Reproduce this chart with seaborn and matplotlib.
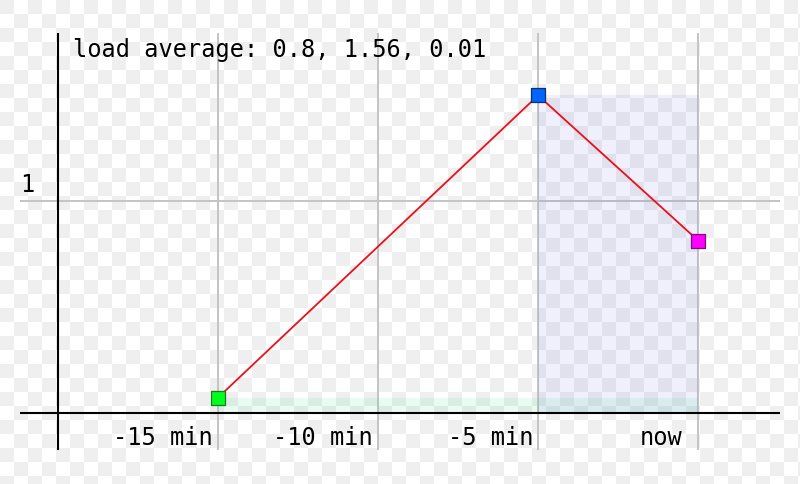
import numpy as np
import pandas as pd
import matplotlib
matplotlib.use("Agg")
import matplotlib.pyplot as plt
import matplotlib.transforms as mtransforms
import seaborn as sns

# ---- data ----
minutes_ago = [-15, -5, 0]            # x positions (minutes)
load_values = [0.01, 1.53, 0.80]      # plotted load values
series = ["15 min", "5 min", "1 min"]
marker_colors = ["#00ff1e", "#0066ff", "#ff00ff"]
edge_colors = ["#1f7a1f", "#10306a", "#7a107a"]
fill_colors = ["#33dd77", "#3344cc", None]
fill_alpha = [0.10, 0.08, 0.0]
tick_pos = [-15, -10, -5, 0]
tick_labels = ["-15 min", "-10 min", "-5 min", "now"]
title_text = "load average: 0.8, 1.56, 0.01"

sns.set_theme(style="white")
plt.rcParams["font.family"] = ["DejaVu Sans Mono", "DejaVu Sans"]

W, H = 800, 484
fig = plt.figure(figsize=(W / 100, H / 100), dpi=100)

# checkerboard background
bg = fig.add_axes([0, 0, 1, 1], zorder=-5)
cell = 14
ny, nx = H // cell + 1, W // cell + 1
board = (np.add.outer(np.arange(ny), np.arange(nx)) % 2).astype(float)
bg.imshow(board, cmap=matplotlib.colors.ListedColormap(["#efefef", "#ffffff"]),
          extent=[0, nx * cell, ny * cell, 0], interpolation="nearest")
bg.set_xlim(0, W)
bg.set_ylim(H, 0)
bg.axis("off")

ax = fig.add_axes([20 / W, 1 - 450 / H, 760 / W, 417 / H])
ax.patch.set_alpha(0)
ax.set_xlim(-21.19, 2.56)
ax.set_ylim(-0.254, 1.844)
for s in ax.spines.values():
    s.set_visible(False)
ax.set_xticks([])
ax.set_yticks([])

y_axis_val = -0.068
x_axis_val = -20.0

# grid
for t in tick_pos:
    ax.axvline(t, color="#c4c4c4", lw=1.4, zorder=1)
ax.axhline(1.0, color="#c4c4c4", lw=1.4, zorder=1)

# area fills
for t, v, fc, fa in zip(minutes_ago, load_values, fill_colors, fill_alpha):
    if fc is not None and fa > 0:
        ax.fill_between([t, 0], y_axis_val, v, color=fc, alpha=fa, lw=0, zorder=1.5)

# axes lines
ax.axvline(x_axis_val, color="black", lw=1.5, zorder=2)
ax.axhline(y_axis_val, color="black", lw=1.5, zorder=2)

df = pd.DataFrame({"t": minutes_ago, "load": load_values, "series": series})
sns.lineplot(data=df, x="t", y="load", color="#e8101c", lw=1.3, ax=ax,
             zorder=3, legend=False)
for i in range(len(df)):
    sns.scatterplot(data=df.iloc[[i]], x="t", y="load", marker="s", s=110,
                    color=marker_colors[i], edgecolor=edge_colors[i],
                    linewidth=0.9, ax=ax, zorder=4, legend=False)
ax.set_xlabel("")
ax.set_ylabel("")

# tick labels
for t, lab in zip(tick_pos, tick_labels):
    dx = -16 if lab == "now" else -5
    off = mtransforms.offset_copy(ax.transData, fig=fig, x=dx, y=0, units="dots")
    ax.text(t, -0.229, lab, ha="right", va="baseline", fontsize=17,
            color="black", transform=off)
ax.text(-20.75, 1.044, "1", ha="right", va="baseline", fontsize=17, color="black")

ax.text(-19.53, 1.724, title_text, ha="left", va="baseline", fontsize=17,
        color="black")

fig.savefig("out.png", dpi=100)
